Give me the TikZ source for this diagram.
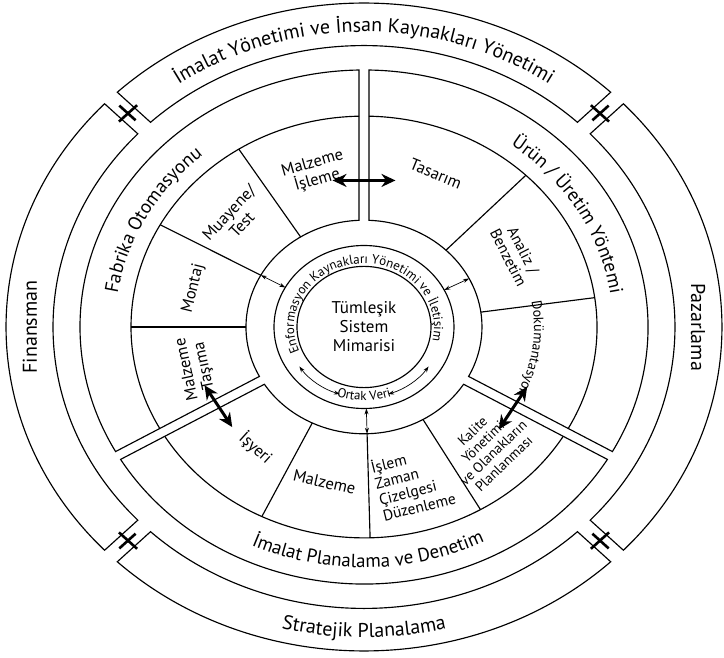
\documentclass[tikz,border=0pt]{standalone}
\usepackage{fontspec}
\setmainfont{PT Sans}
\usetikzlibrary{arrows.meta,decorations.text}
% annular sector with parallel-sided gaps: start, end, outer R, inner R, half gap
\newcommand\annsec[5]{%
  \pgfmathsetmacro\angA{#1+asin(#5/#3)}%
  \pgfmathsetmacro\angB{#2-asin(#5/#3)}%
  \pgfmathsetmacro\angC{#2-asin(#5/#4)}%
  \pgfmathsetmacro\angD{#1+asin(#5/#4)}%
  \pgfmathsetmacro\radO{#3*0.905}%
  \pgfmathsetmacro\radI{#4*0.905}%
  \draw[ring] (\angA:#3 and \radO) arc[start angle=\angA, end angle=\angB, x radius=#3, y radius=\radO]
    -- (\angC:#4 and \radI) arc[start angle=\angC, end angle=\angD, x radius=#4, y radius=\radI] -- cycle;}
% arc line inside a sector: start, end, R, half gap
\newcommand\arcline[4]{%
  \pgfmathsetmacro\angA{#1+asin(#4/#3)}%
  \pgfmathsetmacro\angB{#2-asin(#4/#3)}%
  \pgfmathsetmacro\radO{#3*0.905}%
  \draw[ring] (\angA:#3 and \radO) arc[start angle=\angA, end angle=\angB, x radius=#3, y radius=\radO];}
% radial divider between R4 and R5
\newcommand\divider[1]{\draw[ring] (#1:233 and 210.9) -- (#1:118 and 106.8);}
% text along an elliptic arc: start, end, R, font size, text
\newcommand\arctext[5]{%
  \pgfmathsetmacro\radY{#3*0.905}%
  \path[decorate, decoration={text along path, text align=center,
     text={|\fontsize{#4}{#4}\selectfont|#5}}]
     (#1:#3 and \radY) arc[start angle=#1, end angle=#2, x radius=#3, y radius=\radY];}
\begin{document}
\begin{tikzpicture}[x=1pt,y=1pt,
  ring/.style={line width=1.15pt},
  cell/.style={align=center, font=\fontsize{16.5}{17.5}\selectfont, inner sep=0pt},
  bigarrow/.style={line width=3pt, {Stealth[length=14pt,width=13pt]}-{Stealth[length=14pt,width=13pt]}},
  smallarrow/.style={line width=0.7pt, {Stealth[length=6pt,width=4pt]}-{Stealth[length=6pt,width=4pt]}},
  crossmark/.style={line width=2.6pt}]
\fill[white] (-364,-331) rectangle (360,327);
\useasboundingbox (-364,-331) rectangle (360,327);

% outer bands
\annsec{45}{135}{358}{311}{9}
\annsec{135}{225}{358}{311}{9}
\annsec{225}{315}{358}{311}{9}
\annsec{-45}{45}{358}{311}{9}

% three main sections
\annsec{90}{210}{284}{118}{5}
\annsec{210}{330}{284}{118}{5}
\annsec{-30}{90}{284}{118}{5}
\arcline{90}{210}{233}{5}
\arcline{210}{330}{233}{5}
\arcline{-30}{90}{233}{5}

% cell dividers
\divider{122.5}
\divider{151}
\divider{180}
\divider{46}
\divider{8}
\divider{244}
\divider{271.5}
\divider{300}

% info ring and core
\draw[ring] (0,0) ellipse[x radius=90, y radius=81.5];
\draw[ring] (0,0) ellipse[x radius=67, y radius=60.6];

% crosses in outer gaps
\foreach \t in {45,135,225,315}{
  \draw[crossmark] ({\t-2.2}:334 and 302.3) -- ({\t+2.2}:334 and 302.3);
  \draw[crossmark] (\t:323 and 292.3) -- (\t:346 and 313.1);
}

% outer band texts
\arctext{150}{30}{326}{20}{İmalat Yönetimi ve İnsan Kaynakları Yönetimi}
\arctext{230}{310}{343}{20}{Stratejik Planalama}
\node[rotate=90, font=\fontsize{20}{20}\selectfont] (fin) at (180:334 and 302.3) {Finansman};
\node[rotate=-90, font=\fontsize{20}{20}\selectfont] (paz) at (0:334 and 302.3) {Pazarlama};

% label ring texts
\arctext{202}{102}{249}{19}{Fabrika Otomasyonu}
\arctext{80}{-20}{249}{19}{Ürün / Üretim Yöntemi}
\arctext{221}{321}{266}{19}{İmalat Planalama ve Denetim}

% cell texts
\node[cell, rotate=16] (mi) at (106:178 and 161.1) {Malzeme\\İşleme};
\node[cell, rotate=47] (mt) at (137:176 and 159.3) {Muayene/\\Test};
\node[cell, rotate=76] (mo) at (166:176 and 159.3) {Montaj};
\node[cell, rotate=102] (mta) at (195:174 and 157.5) {Malzeme\\Taşıma};
\node[cell, rotate=-22] (ta) at (67:184 and 166.5) {Tasarım};
\node[cell, rotate=-63, font=\fontsize{15.5}{16.5}\selectfont] (an) at (28:172 and 155.7) {Analiz /\\Benzetim};
\arctext{28}{-44}{170}{14}{Dokümantasyon}
\node[cell, rotate=-42] (is) at (231:172 and 155.7) {İşyeri};
\node[cell, rotate=-13] (ma) at (257:176 and 159.3) {Malzeme};
\node[cell, rotate=14, align=left, font=\fontsize{15.5}{16.5}\selectfont] (iz) at (286:178 and 161.1) {İşlem\\Zaman\\Çizelgesi\\Düzenleme};
\node[cell, rotate=44, font=\fontsize{14}{15}\selectfont] (ka) at (313:182 and 164.7) {Kalite\\Yönetimi\\ve Olanakların\\Planlanması};

% core texts
\node[align=center, font=\fontsize{17}{19}\selectfont] (tsm) at (0,0) {Tümleşik\\Sistem\\Mimarisi};
\arctext{217}{-27}{70}{13}{Enformasyon Kaynakları Yönetimi ve İletişim}
\arctext{240}{300}{81}{13}{Ortak Veri}

% small arrows
\draw[smallarrow] (151:118 and 106.8) -- (151:90 and 81.5);
\draw[smallarrow] (27:118 and 106.8) -- (27:90 and 81.5);
\draw[smallarrow] (271.5:118 and 106.8) -- (271.5:90 and 81.5);
\draw[smallarrow] (214:78 and 70.6) arc[start angle=214, end angle=252, x radius=78, y radius=70.6];
\draw[smallarrow] (288:78 and 70.6) arc[start angle=288, end angle=326, x radius=78, y radius=70.6];

% thick arrows across the gaps
\draw[bigarrow] (79:165 and 149.3) -- (101:165 and 149.3);
\draw[bigarrow] (202:172 and 155.7) -- (220:172 and 155.7);
\draw[bigarrow] (320:176 and 159.3) -- (338:176 and 159.3);
\end{tikzpicture}
\end{document}
